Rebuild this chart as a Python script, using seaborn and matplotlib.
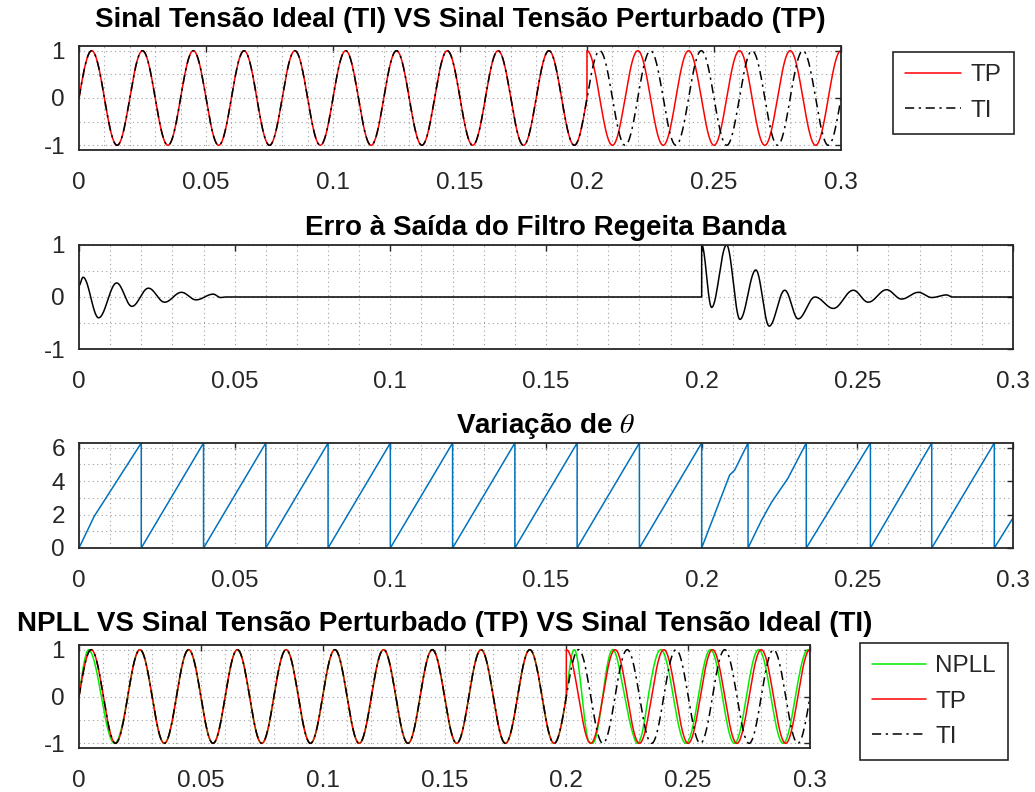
import numpy as np
import pandas as pd
import matplotlib
matplotlib.use("Agg")
import matplotlib.pyplot as plt
import seaborn as sns
from matplotlib.ticker import MultipleLocator

# --- Parâmetros dos sinais ---
t_fim = 0.3
t_perturb = 0.2          # instante da perturbação
freq_rede = 50           # Hz
amp_sinal = 1.0
salto_fase = np.pi / 2   # salto de fase do sinal perturbado em t = 0.2

# erro à saída do filtro rejeita banda: extremos
erro_t = [0, 0, 0.0013, 0.0063, 0.0121, 0.0170, 0.0223, 0.0275, 0.0329, 0.0376, 0.0431, 0.0455, 0.047,
          0.2, 0.2, 0.2032, 0.2080, 0.2123, 0.2174, 0.2217, 0.2267, 0.2310, 0.2364, 0.2423, 0.2487,
          0.2535, 0.2594, 0.2642, 0.2696, 0.2739, 0.2787, 0.2805, 0.3]
erro_v = [0, 0.22, 0.38, -0.40, 0.27, -0.18, 0.17, -0.10, 0.09, -0.055, 0.055, -0.01, 0,
          0, 1.0, -0.20, 1.0, -0.43, 0.52, -0.56, 0.13, -0.42, 0.0, -0.22, 0.13,
          -0.10, 0.14, -0.04, 0.09, -0.01, 0.04, 0, 0]

# ângulo theta do NPLL: vértices do dente de serra
dois_pi = 2 * np.pi
theta_t = [0, 0.0049, 0.02, 0.02, 0.04, 0.04, 0.06, 0.06, 0.08, 0.08, 0.10, 0.10, 0.12, 0.12,
           0.14, 0.14, 0.16, 0.16, 0.18, 0.18, 0.20, 0.20, 0.2090, 0.2106, 0.2149, 0.2149,
           0.2192, 0.2224, 0.2277, 0.2336, 0.2336, 0.2542, 0.2542, 0.2739, 0.2739, 0.2940, 0.2940, 0.3]
theta_v = [0, 1.9, dois_pi, 0, dois_pi, 0, dois_pi, 0, dois_pi, 0, dois_pi, 0, dois_pi, 0,
           dois_pi, 0, dois_pi, 0, dois_pi, 0, dois_pi, 0, 4.37, 4.66, dois_pi, 0,
           1.65, 2.72, 4.17, dois_pi, 0, dois_pi, 0, dois_pi, 0, dois_pi, 0, 1.8]

x_ticks = [0, 0.05, 0.1, 0.15, 0.2, 0.25, 0.3]
x_tick_labels = ['0', '0.05', '0.1', '0.15', '0.2', '0.25', '0.3']

titulos = ['Sinal Tensão Ideal (TI) VS Sinal Tensão Perturbado (TP)',
           'Erro à Saída do Filtro Regeita Banda',
           r'Variação de $\theta$',
           'NPLL VS Sinal Tensão Perturbado (TP) VS Sinal Tensão Ideal (TI)']

# --- Construção das séries ---
t = np.arange(0, t_fim + 1e-9, 2e-5)
ti = amp_sinal * np.sin(2 * np.pi * freq_rede * t)
tp = np.where(t < t_perturb, ti, amp_sinal * np.sin(2 * np.pi * freq_rede * t + salto_fase))

# erro: meia-onda cossenoidal entre extremos consecutivos
tt_err, vv_err = [], []
for k in range(len(erro_t) - 1):
    t0, t1, v0, v1 = erro_t[k], erro_t[k + 1], erro_v[k], erro_v[k + 1]
    if t1 == t0:
        tt_err += [t0, t1]
        vv_err += [v0, v1]
        continue
    s = np.linspace(0, 1, 30)
    tt_err += list(t0 + (t1 - t0) * s)
    vv_err += list(v0 + (v1 - v0) * (1 - np.cos(np.pi * s)) / 2)
df_err = pd.DataFrame({'t': tt_err, 'erro': vv_err})

theta_interp = np.interp(t, theta_t, theta_v)
npll = np.sin(theta_interp)

df = pd.DataFrame({'t': t, 'TI': ti, 'TP': tp, 'NPLL': npll})
df_theta = pd.DataFrame({'t': theta_t, 'theta': theta_v})

# --- Estilo ---
sns.set_style("white")
plt.rcParams['font.family'] = ['Liberation Sans', 'DejaVu Sans']
plt.rcParams['mathtext.fontset'] = 'stix'

W, H = 1035, 792
fig = plt.figure(figsize=(W / 100, H / 100), dpi=100)


def eixo(l, topo, r, b):
    return fig.add_axes([l / W, 1 - b / H, (r - l) / W, (b - topo) / H])


ax1 = eixo(79, 46, 841, 150)
ax2 = eixo(79, 245, 1013, 349)
ax3 = eixo(79, 443, 1013, 548)
ax4 = eixo(79, 645, 810, 748)

traco_ponto = (0, (6, 3, 1.5, 3))
kw = dict(estimator=None, sort=False, errorbar=None, legend=False)

# subplot 1
sns.lineplot(data=df, x='t', y='TP', ax=ax1, color='#ff0000', linewidth=1.1, **kw)
sns.lineplot(data=df, x='t', y='TI', ax=ax1, color='black', linewidth=1.1, linestyle=traco_ponto, **kw)
# subplot 2
sns.lineplot(data=df_err, x='t', y='erro', ax=ax2, color='black', linewidth=1.1, **kw)
# subplot 3
sns.lineplot(data=df_theta, x='t', y='theta', ax=ax3, color='#0072bd', linewidth=1.1, **kw)
# subplot 4
sns.lineplot(data=df, x='t', y='NPLL', ax=ax4, color='#00ee00', linewidth=1.1, **kw)
sns.lineplot(data=df, x='t', y='TP', ax=ax4, color='#ff0000', linewidth=1.1, **kw)
sns.lineplot(data=df, x='t', y='TI', ax=ax4, color='black', linewidth=1.1, linestyle=traco_ponto, **kw)

limites_y = [(-1.1, 1.1), (-1, 1), (0, dois_pi), (-1.1, 1.1)]
ticks_y = [[-1, 0, 1], [-1, 0, 1], [0, 2, 4, 6], [-1, 0, 1]]
minor_y = [0.5, 0.5, 1, 0.5]
pads_titulo = [13.5, 7.5, 7.5, 10]

for ax, tit, yl, yt, my, pt in zip([ax1, ax2, ax3, ax4], titulos, limites_y, ticks_y, minor_y, pads_titulo):
    ax.set_xlim(0, t_fim)
    ax.set_ylim(*yl)
    ax.set_xticks(x_ticks)
    ax.set_xticklabels(x_tick_labels)
    ax.set_yticks(yt)
    ax.set_yticklabels([str(v) for v in yt])
    ax.xaxis.set_minor_locator(MultipleLocator(0.01))
    ax.yaxis.set_minor_locator(MultipleLocator(my))
    ax.grid(True, which='both', linestyle=(0, (1, 3)), color='#a0a0a0', linewidth=0.8)
    ax.tick_params(which='major', direction='in', top=True, right=True, length=4, width=1,
                   labelsize=17.5, labelcolor='#262626')
    ax.tick_params(axis='x', which='major', pad=16)
    ax.tick_params(axis='y', which='major', pad=10)
    ax.tick_params(which='minor', length=0)
    ax.set_xlabel('')
    ax.set_ylabel('')
    for sp in ax.spines.values():
        sp.set_color('#262626')
        sp.set_linewidth(1.3)
    ax.set_title(tit, fontsize=20, fontweight='bold', color='black', pad=pt)

leg_kw = dict(loc='upper left', bbox_transform=fig.transFigure, fancybox=False, framealpha=1,
              edgecolor='#262626', fontsize=17.5, borderpad=0.5, labelspacing=0.55,
              handletextpad=0.4, borderaxespad=0)
l1 = ax1.legend(handles=ax1.lines[:2], labels=['TP', 'TI'], bbox_to_anchor=(893 / W, 1 - 52 / H),
                handlelength=2.3, **leg_kw)
l1.get_frame().set_linewidth(1.2)
l4 = ax4.legend(handles=ax4.lines[:3], labels=['NPLL', 'TP', 'TI'], bbox_to_anchor=(860 / W, 1 - 643 / H),
                handlelength=2.2, **leg_kw)
l4.get_frame().set_linewidth(1.2)

fig.savefig('out.png', dpi=100)
